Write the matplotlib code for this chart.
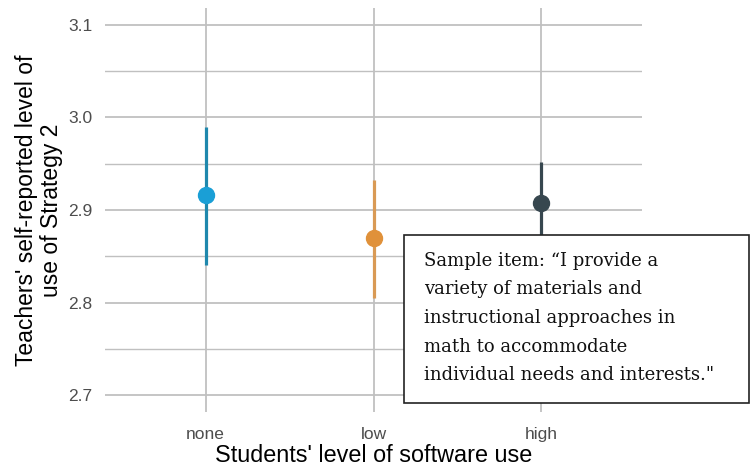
import matplotlib
matplotlib.use("Agg")
import matplotlib.pyplot as plt
from matplotlib.patches import Rectangle

plt.rcParams["font.family"] = ["Liberation Sans", "DejaVu Sans"]

# Mean level of Strategy 2 use with confidence intervals
levels = ["none", "low", "high"]
means = [2.916, 2.870, 2.908]
lower = [2.841, 2.805, 2.864]
upper = [2.990, 2.932, 2.952]
point_colors = ["#1a9fd6", "#e0913a", "#37474f"]
bar_colors = ["#1f88ad", "#d99a55", "#37474f"]

sample_item = ("Sample item: \u201cI provide a\n"
               "variety of materials and\n"
               "instructional approaches in\n"
               "math to accommodate\n"
               "individual needs and interests.\"")

W, H = 755, 471
fig = plt.figure(figsize=(W / 100, H / 100), dpi=100)
ax = fig.add_axes([105 / W, 1 - 412 / H, (642 - 105) / W, (412 - 8) / H])

x = list(range(1, len(levels) + 1))
for xi, m, lo, hi, pc, bc in zip(x, means, lower, upper, point_colors, bar_colors):
    ax.plot([xi, xi], [lo, hi], color=bc, lw=2.3, solid_capstyle="butt", zorder=3)
    ax.plot(xi, m, "o", ms=11.5, color=pc, mec=pc, zorder=4)

ax.set_xlim(0.4, 3.6)
ax.set_ylim(2.682, 3.118)
ax.set_xticks(x)
ax.set_xticklabels(levels)
ax.set_yticks([2.7, 2.8, 2.9, 3.0, 3.1])
ax.set_yticks([2.75, 2.85, 2.95, 3.05], minor=True)
ax.grid(True, which="major", color="#c0c0c0", lw=1.3)
ax.grid(True, which="minor", axis="y", color="#c0c0c0", lw=1.0)
ax.set_axisbelow(True)
for s in ax.spines.values():
    s.set_visible(False)
ax.tick_params(which="both", length=0, labelsize=12.5, labelcolor="#4d4d4d")
ax.tick_params(axis="y", pad=9)
ax.tick_params(axis="x", pad=11)

ax.set_xlabel("Students' level of software use", fontsize=16.8, labelpad=1)
ax.set_ylabel("Teachers' self-reported level of\nuse of Strategy 2", fontsize=16.5,
              labelpad=3.5, linespacing=1.15)

# Sample item callout box on top of the panel
box = Rectangle((404 / W, 1 - 403 / H), (749 - 404) / W, (403 - 235) / H,
                transform=fig.transFigure, facecolor="white", edgecolor="#222222",
                lw=1.2, zorder=10)
fig.patches.append(box)
fig.text(424 / W, 1 - 252 / H, sample_item, family="DejaVu Serif", fontsize=13,
         va="top", ha="left", linespacing=1.75, color="#111111", zorder=11)

fig.savefig("out.png", dpi=100)
